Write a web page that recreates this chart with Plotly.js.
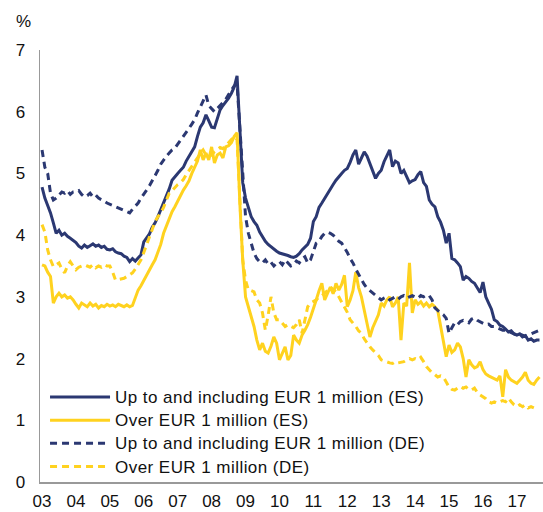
<!DOCTYPE html>
<html>
<head>
<meta charset="utf-8">
<script src="https://cdn.plot.ly/plotly-3.0.1.min.js"></script>
<style>
html,body{margin:0;padding:0;background:#fff;}
#chart{width:543px;height:512px;}
#chart .legendtext{font-size:17px !important;letter-spacing:0.45px;}
#chart .legend .scrollbox, #chart .legend g{clip-path:none !important;}
</style>
</head>
<body>
<div id="chart"></div>
<script>
// Monthly series, Jan 2003 onwards (%)
var startYear = 2003;
var seriesNames = [
  "Up to and including EUR 1 million (ES)",
  "Over EUR 1 million (ES)",
  "Up to and including EUR 1 million (DE)",
  "Over EUR 1 million (DE)"
];
var esSmall = [
  4.78,4.60,4.48,4.36,4.20,4.03,4.08,4.00,4.03,3.98,3.95,3.92,
  3.88,3.82,3.79,3.84,3.80,3.83,3.86,3.82,3.84,3.80,3.82,3.77,
  3.76,3.78,3.73,3.71,3.70,3.66,3.64,3.57,3.62,3.58,3.63,3.68,
  3.89,3.95,4.02,4.13,4.20,4.30,4.41,4.50,4.62,4.75,4.89,4.95,
  5.00,5.05,5.10,5.20,5.28,5.35,5.43,5.60,5.75,5.82,5.95,5.85,
  5.75,5.74,5.90,6.03,6.10,6.16,6.22,6.30,6.40,6.58,5.80,4.85,
  4.60,4.45,4.30,4.22,4.16,4.05,3.97,3.90,3.85,3.81,3.77,3.74,
  3.71,3.70,3.68,3.67,3.65,3.64,3.66,3.70,3.76,3.80,3.85,3.95,
  4.22,4.30,4.45,4.52,4.60,4.68,4.75,4.82,4.89,4.95,5.00,5.05,
  5.08,5.18,5.30,5.38,5.15,5.25,5.35,5.28,5.17,5.05,4.92,5.00,
  5.05,5.19,5.28,5.38,5.11,5.20,5.17,5.00,5.05,4.95,4.85,4.88,
  4.90,4.98,5.03,4.85,4.79,4.57,4.50,4.46,4.30,4.21,4.08,3.87,
  4.03,3.62,3.60,3.55,3.49,3.27,3.33,3.30,3.25,3.22,3.15,3.07,
  3.24,3.00,2.90,2.80,2.63,2.60,2.54,2.52,2.48,2.43,2.45,2.40,
  2.38,2.40,2.35,2.37,2.30,2.32,2.28,2.30,2.30
];
var esLarge = [
  3.52,3.50,3.40,3.33,2.90,3.00,3.06,3.00,3.03,2.98,3.00,2.95,
  2.88,2.82,2.90,2.87,2.84,2.90,2.85,2.88,2.82,2.86,2.84,2.88,
  2.85,2.87,2.84,2.88,2.86,2.84,2.87,2.84,2.86,3.00,3.11,3.18,
  3.27,3.35,3.45,3.52,3.60,3.72,3.85,4.03,4.15,4.28,4.38,4.46,
  4.55,4.65,4.73,4.80,4.88,5.00,5.10,5.20,5.38,5.22,5.33,5.22,
  5.43,5.17,5.30,5.33,5.25,5.43,5.45,5.50,5.60,5.66,4.50,3.60,
  3.00,2.84,2.70,2.52,2.30,2.14,2.25,2.12,2.09,2.20,2.35,2.25,
  1.98,2.10,2.19,1.98,2.05,2.38,2.30,2.25,2.38,2.46,2.55,2.67,
  2.80,2.95,3.10,3.22,2.95,3.05,3.16,3.05,3.22,3.11,3.20,3.35,
  2.84,2.95,3.10,3.40,3.15,3.00,2.80,2.55,2.35,2.50,2.60,2.71,
  2.90,2.85,2.95,3.00,2.84,2.90,3.00,2.30,2.90,2.85,3.55,2.74,
  2.95,2.88,2.92,2.85,2.90,2.84,2.88,2.84,2.78,2.52,2.30,2.03,
  2.22,2.10,2.14,2.25,2.19,2.00,1.70,1.98,1.90,1.85,1.87,1.95,
  1.82,1.75,1.72,1.70,1.68,1.65,1.72,1.38,1.82,1.70,1.65,1.62,
  1.60,1.65,1.70,1.78,1.65,1.60,1.58,1.65,1.70
];
var deSmall = [
  5.38,5.10,5.00,4.68,4.57,4.60,4.65,4.70,4.68,4.72,4.66,4.70,
  4.70,4.72,4.66,4.62,4.64,4.68,4.62,4.65,4.60,4.58,4.55,4.52,
  4.50,4.48,4.46,4.44,4.42,4.40,4.38,4.36,4.42,4.47,4.52,4.60,
  4.66,4.73,4.80,4.88,4.95,5.05,5.15,5.22,5.28,5.33,5.38,5.41,
  5.47,5.53,5.60,5.66,5.73,5.80,5.87,5.98,6.08,6.19,6.27,6.10,
  6.05,6.00,6.05,6.10,6.15,6.20,6.28,6.35,6.42,6.45,5.70,4.90,
  4.30,4.03,3.85,3.71,3.62,3.57,3.55,3.60,3.53,3.56,3.50,3.55,
  3.57,3.52,3.60,3.55,3.50,3.52,3.58,3.55,3.62,3.65,3.55,3.60,
  3.75,3.87,3.90,3.98,4.03,4.05,4.03,4.00,3.95,3.90,3.87,3.80,
  3.72,3.62,3.55,3.45,3.36,3.27,3.20,3.14,3.10,3.06,3.03,2.98,
  2.95,2.98,3.00,2.95,2.98,3.00,2.96,3.00,3.02,2.98,3.00,3.02,
  3.00,2.98,3.02,3.00,3.03,3.02,2.95,2.82,2.78,2.74,2.71,2.65,
  2.41,2.50,2.58,2.55,2.60,2.62,2.60,2.58,2.64,2.66,2.62,2.60,
  2.58,2.55,2.56,2.52,2.52,2.50,2.48,2.46,2.46,2.45,2.42,2.40,
  2.38,2.40,2.38,2.36,2.38,2.40,2.42,2.45,2.46
];
var deLarge = [
  4.17,4.05,3.76,3.60,3.49,3.52,3.55,3.45,3.39,3.50,3.57,3.50,
  3.44,3.48,3.50,3.52,3.50,3.48,3.52,3.47,3.50,3.48,3.52,3.50,
  3.50,3.40,3.27,3.28,3.30,3.30,3.33,3.36,3.39,3.45,3.52,3.60,
  3.72,3.85,3.97,4.10,4.22,4.30,4.36,4.45,4.58,4.68,4.72,4.78,
  4.82,4.85,4.90,4.98,5.05,5.12,5.20,5.27,5.32,5.38,5.30,5.27,
  5.30,5.35,5.38,5.42,5.40,5.45,5.50,5.55,5.60,5.55,4.50,3.60,
  3.27,3.11,3.10,3.08,2.95,2.90,2.74,2.46,2.70,3.00,2.74,2.63,
  2.63,2.58,2.52,2.55,2.52,2.50,2.55,2.63,2.41,2.60,2.84,2.90,
  2.92,2.95,3.00,3.02,3.06,3.10,3.16,3.12,3.08,3.00,2.92,2.84,
  2.75,2.63,2.58,2.52,2.45,2.41,2.32,2.25,2.19,2.14,2.10,2.05,
  1.98,1.96,1.95,1.93,1.92,1.95,1.93,1.94,1.95,1.98,2.00,1.98,
  2.00,1.98,2.02,1.95,1.87,1.82,1.77,1.74,1.70,1.72,1.70,1.62,
  1.54,1.50,1.49,1.52,1.55,1.52,1.54,1.50,1.49,1.52,1.45,1.41,
  1.38,1.35,1.30,1.28,1.30,1.28,1.30,1.32,1.30,1.36,1.30,1.25,
  1.22,1.25,1.22,1.25,1.20,1.22,1.20
];
var tickYears = [2003,2004,2005,2006,2007,2008,2009,2010,2011,2012,2013,2014,2015,2016,2017];
var tickLabels = ["03","04","05","06","07","08","09","10","11","12","13","14","15","16","17"];

function monthX(arr){ return arr.map(function(_, i){ return startYear + i/12; }); }

var navy = "#2B3872", yellow = "#FFD21F";
var FONT = "Liberation Sans, Arial, sans-serif";
var FS = 17;
var traces = [
  {x: monthX(esSmall), y: esSmall, name: seriesNames[0], mode: "lines", line: {color: navy, width: 3}},
  {x: monthX(esLarge), y: esLarge, name: seriesNames[1], mode: "lines", line: {color: yellow, width: 3}},
  {x: monthX(deSmall), y: deSmall, name: seriesNames[2], mode: "lines", line: {color: navy, width: 3, dash: "7px,5px"}},
  {x: monthX(deLarge), y: deLarge, name: seriesNames[3], mode: "lines", line: {color: yellow, width: 3, dash: "7px,5px"}}
];
var layout = {
  width: 543, height: 512,
  margin: {l: 40, r: 0, t: 50, b: 30},
  paper_bgcolor: "#fff", plot_bgcolor: "#fff",
  font: {family: FONT, size: FS, color: "#111"},
  showlegend: true,
  legend: {x: 0.01, y: 0.235, xanchor: "left", yanchor: "top", bgcolor: "rgba(0,0,0,0)",
           font: {family: FONT, size: 15.5, color: "#111"}, itemwidth: 60, tracegroupgap: 0},
  xaxis: {range: [2002.94, 2017.77], tickmode: "array", tickvals: tickYears, ticktext: tickLabels,
          showline: true, linecolor: "#999", linewidth: 1.5, ticks: "", showgrid: false, zeroline: false,
          tickfont: {family: FONT, size: FS, color: "#111"}, ticklabelstandoff: 3, fixedrange: true},
  yaxis: {range: [0, 7], dtick: 1, tick0: 0, showline: true, linecolor: "#999", linewidth: 1.5,
          ticks: "", showgrid: false, zeroline: false,
          tickfont: {family: FONT, size: FS, color: "#111"}, ticklabelstandoff: 10, fixedrange: true},
  annotations: [{text: "%", xref: "paper", yref: "paper", x: -0.032, y: 1.066, xanchor: "center", yanchor: "middle",
                 showarrow: false, font: {family: FONT, size: FS, color: "#111"}}]
};
Plotly.newPlot("chart", traces, layout, {displayModeBar: false, staticPlot: true});
</script>
</body>
</html>
